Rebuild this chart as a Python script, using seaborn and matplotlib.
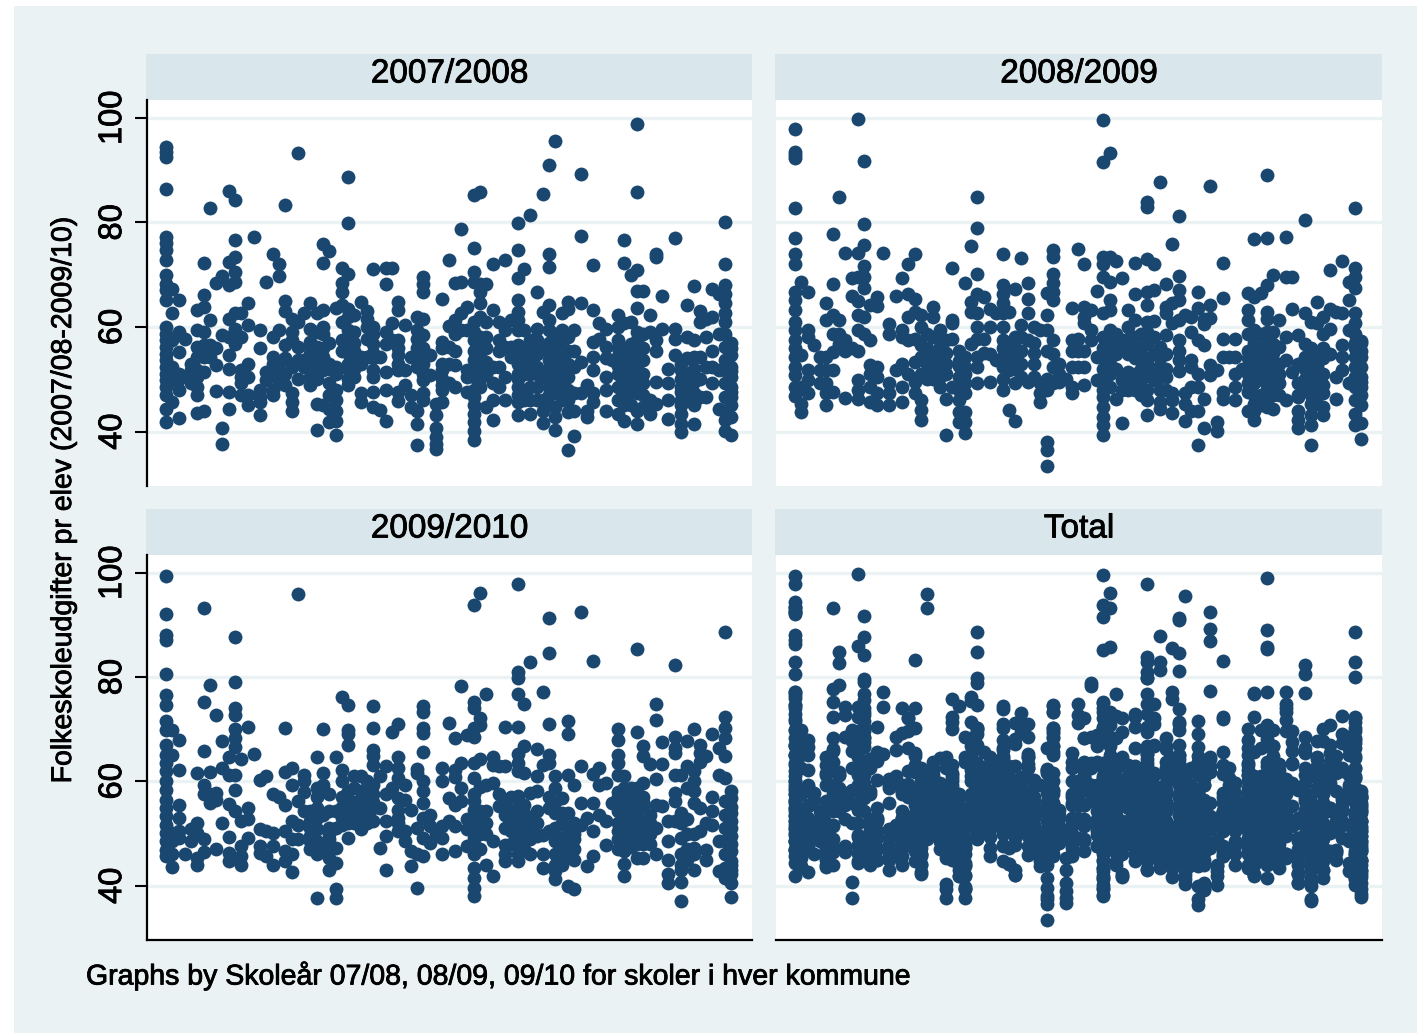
import matplotlib
matplotlib.use("Agg")
import matplotlib.pyplot as plt
import matplotlib.patheffects as pe
from matplotlib.patches import Rectangle
import pandas as pd
import seaborn as sns

PANELS = ["2007/2008", "2008/2009", "2009/2010", "Total"]
Y_TICKS = [40, 60, 80, 100]
Y_LABEL = "Folkeskoleudgifter pr elev (2007/08-2009/10)"
NOTE = "Graphs by Skoleår 07/08, 08/09, 09/10 for skoler i hver kommune"

# One list per municipality (position along the x axis), one value per school
y_0708 = [
 [94.4,93.5,92.5,86.3,77.2,76,74.7,72.9,69.9,68.3,67,65.1,60,58.7,57.5,56.2,54.9,53.6,52.4,51.1,49.8,48.5,47,44.4,41.8],
 [67.3,62.6,57.5,52.4,51,49.8,45.7],[65.1,59,55.2,51,50,47.9,42.6],[57.8],[53,51.7,50.5,49.2],
 [63.2,59.4,56.2,54.3,51.7,50.5,48.5,47,43.6],[72.3,66.2,63.8,59,56.5,54.3,51.4,44],[82.7,61.3,56.5,54.3],
 [68.5,55.9,52.7,47.7],[69.8,58.4,40.7,37.7],[86,72.4,68,61.6,58.1,54.6,52,47.6,44.4],
 [84.2,76.7,73.4,70.5,68.6,62.6,59.7,58.1,56.8],[62.6,58.1,51.7,50.5,49.2,47],[64.5,60.3,53,50.5,47,45],[77.2],
 [59.4,55.9,47.9,46.6,45.7,43.1],[68.6,51.4,49.8],[74,58.1,54.3,53,51,47.9,47],[72.1,69.7,59.5,53,51,49.2],
 [83.3,64.9,63.1,56.5,54,51,48.9],[61.6,59,57.5,52.4,47.3,45.7,44],[93.3,61,56.2,53.6,50],[62.6,53.6,52.4],
 [64.5,59.7,57.1,54.9,53,50.5],[62.6,56.2,53.6,51.7,45.3,40.4],[75.8,72.3,63.2,60,58.7,54.3,51.7,45],
 [74.5,49.2,47,44.4,41.8],[63.7,52.4,51,47.9,46,44,42.1,39.4],[71.3,68.4,66.7,64.2,61,57.5,55.5],
 [88.7,79.8,70.2,63.5,61.9,59.4,56.2,53,48.9],[62.2,55.5,53.6,50.5],[64.7,54.3,53,47.3,45.7],[63,61.6,60,57.8,54.3],
 [71.1,60,58.7,56.8,51.7,50.5,47.6,44.7],[54.3,44.1],[71.2,68.2,59,56.8,51.4,47.9,42.1],[71.2,60.8,57.5],
 [64.7,63.3,57.5,54.6,51.7,47.6,45.8],[60.3,51.7,48.9],[54.3,47,44.7],[62,59.4,57.8,52.4,44,41.4,37.4],
 [69.6,68.3,66.7,61.6,58.4,55.9,49.8,47.3,46],[54.6,50.8],[45.3,43.1,40.6,39,37.7,36.7],[65.4,57.1,55.9,53,51.7,47.9,45.7],
 [72.8,60.1,56.2,53,49.2],[68.4,61.3,58.7,55.5,52.7,48.5],[78.8,68.6,62.6,59.4],[63.8,59.4,51.7,50.5,47.6],
 [85.2,75.1,70.5,68.6,61,57.5,53.6,50.5,46.6,45,43.4,41.8,40.2,38.3],[85.8,68.3,66.7,64.5,61.9,54.3,48.5],
 [68.3,61,58.1,53.3,44.7],[72.1,63.2,52.4,49.2,46,42.3],[61,57.5,55.5,52.4,48.5],[72.9,59.4,56.2,50.5,46],[61.3,56.2,54.3],
 [79.9,74.8,69.4,65.2,62.9,61.3,59.4,54.9,51,48.5,45.7,43.1],[71,59.4,55.5,47.9],[81.4,57.5,53,46,43.4],
 [66.7,59.7,57.5,54.9,52.4,48.5],[85.5,62.9,50.5,46,44,41.6],[90.9,73.9,71.4,64.2,61.3,59.4,55.5,53.6,50.5,48.5],
 [95.5,58.7,54.9,47.3,44.7,42.8,40.4],[62.6,59.4,56.8,51,48.5,46],[64.8,63.5,55.5,50.5,43.8,36.4],
 [59.4,55.5,52.4,47.3,44,39.2],[89.3,77.4,64.6,53.3,47.3],[48.9,44,42.8],[71.9,63.2,57.1,54.3,51.7,47.3,45.7],[60.7,57.8],
 [59.7,56.2,54,50.5,48,44],[53.6],[62.2,60,57.5,54.3,51,46,43.4],[76.7,72.3,60.7,54.3,50.5,47,42.1],[69.9,61,56.8,53,49.2],
 [98.9,85.8,70.9,66.8,63.7,57.5,54.9,51,47.3,44,41.5],[66.8,58.7,53.6,49.2,44.7],[62.2,59,46,43.4],
 [74,73.4,57.5,55.5,49.5,45.3],[65.9,59.7],[52,49.2,46,42.5],[77,59.7,57.8,54.6],[51.7,48.5,46,43.4,41.5,40],
 [64.3,58.1,50.5],[67.8,57.5,54.3,47.3,45,41.5],[63,61,54.3,50.1,46.6],[61.6,58.1,52.4,46.6],[67.3,61.9,55.5,52.4,49.2],
 [66.4,58.7,51.7,44.4],[80.1,72.1,68,66.4,64.5,62.6,61,58.7,56.2,53.6,51.7,49.2,46.6,44,42.2,40.2],
 [55.9,54.6,52.4,50.5,48.5,46.6,42.8,39.3],
]
# Schools inside the solid mass of the band, estimated by municipality
dense_0708 = {23:[56,52,49],24:[59,55,50],25:[56,53],26:[57,53,52],29:[58,55,52,50],30:[59,57,52],33:[55,54],37:[56,53],
 40:[56,54],41:[54,53,51],44:[50,49],49:[59,55.5,51.8,48],50:[58,56,52,50],51:[56,51],56:[56.5,53,50,47],57:[53,51,46],
 58:[55,51,48.5],59:[56,51,46],61:[57,52,47,45],62:[57,52,50,48.5],63:[54,53,47],64:[58,53,48,46],72:[56,52.5,48.5],
 73:[56,52,48.5,45],74:[55,51.5,47.5,45],75:[59,52.5,49],76:[56,51,47],82:[53,50,47.5,45],83:[54,48,46],84:[52,49.5],
 90:[57,51.5,47.5,45]}

y_0809 = [
 [97.8,93.5,92.9,92.4,82.8,77.1,74,72,66.7,65.1,63.2,61,59.4,57.5,55.9,54.3,52.4,50.8,48.5,46.9],
 [68.6,54.6,48.5,45.3,43.7],[66.6,59.4,58.1,51.7,49.8,47.4],[56.5],[54.3,51.7,49.2],[64.6,61.3,54.3,51.7,49.2,47.3,45],
 [77.7,68.3,62.2,58.7,55.2,51.7,47.6],[84.8,61.3,58.7,56.8],[74.2,57.5,55.5,46.5],[69.4,65.9,55.9],
 [99.7,74.2,69.6,64.9,62.2,59.4,55.5,49.8,47.9,46.3],[91.8,79.7,75.6,71.6,69.6,67.5,61.9,58.7],[64.2,57.5,52.7,51.1,48.5,45.7],
 [65.7,64,52.4,50.5,47.3,45],[74.2],[60.5,58.7,49.2,47.3,45],[66,51.7],[69.3,59.4,58.1,53,48.5,45.7],[72.1,66.4,62,57.5,51],
 [74,65.4,62.9,57.8,53.3,49.5,47.3],[62.2,60,56.5,54.3,51,46,44.1,42.2],[58.7,51.4,50.1],[63.8,61.9,54.9,52.4],[59.4,56.2,54.3,50.5],
 [57.5,53,46.2,39.4],[71.3,61.3,60.7,57.8,48.5],[55.5,50.5,47.9,46,43.7,41.8],[68.5,54.3,52.4,49.2,47.3,43.7,41.8,39.7],
 [75.4,64.8,62.9,56.8],[84.8,78.9,70.2,66.4,62.6,60,57.8,54.3,52.4,49.2],[65.7,57.8],[63.5,60,54.9,49.4],[62.6,53.6],
 [73.9,68,66.4,64.5,62.6,60,57.5,54.3,52.4,47.9],[62.9,56.8,51.7,44.2],[67.2,58.1,54.3,49.2,42],[73.2,60.3,55.5,50.5],
 [68.5,65.3,62.6,57.5,49.5],[60,53,50.5],[59.4,49.2,47.3,45.7],[66.5,62.2,59.4,55.5,50.1,47.9,38,36.5,33.4],
 [74.7,73.3,70.2,68.5,66.7,65.1,57.5,54.9,52.4,49.2],[53,51,49.5],[50],[63.7,57.5,55.5,52.4,48.5,47.3],[74.9,57.8,55.5,52.4],
 [72.1,63.8,61.9,60.7,55.5,52.4,48.9],[63.2,59.4,57.5],[66.8,54.3,49.8],
 [99.6,91.6,73.4,72.1,69.6,62.6,58.1,54.3,46.6,44.7,42.8,41.2,39.4],[93.2,73.3,68.6,65.1,63.2,59.4,53,48.5],[72.6,58.7,54.9,46.3],
 [69.4,57.5,49.8,47.9,41.7],[63.2,57.8,54.9,51.4],[72.3,66.4,61.3,56.2,51,47.9],[58.7,54.3,49.8],
 [83.9,82.9,73,66.7,64.3,61,56.8,51,47.9,46,43.2],[72.1,67,61.2,54.9,49.8],[87.8,56.2,50.5,45.7,44.4],[68.3,63.8,62.6,58.4,54.9,50.5],
 [75.8,64.5,60.7,47.3,46,43.6],[81.2,69.8,67,65.1,61.3,57.5,55.5,53.6,51.6],[62.2,47.3,45.3,42],[61.9,59,53.6,52.4,48.5,44],
 [66.6,63.7,57.5,51,48.5,44,37.5],[61.6,60.6,56.5,46.3,40.6],[86.9,64.3,61.8,52.7,50.8],[51.7,41.8,40.2],[72.3,65.6,57.8,54.3,47.6,46.3],
 [54.3],[57.8,54.3,51,48.5,46],[52],[66.5,63.2,61.3,58.7,55.5,52.4,49.2,44],[76.9,65.7,59.4,55.5,52.4,49.2,45.3,42.3],[66.5,58.7,54.3],
 [89,77.1,68.1,62.9,61.6,56.8,54.3,51,47.9,44.7],[69.9,59,56.8,50.5,44.4],[61.4,56.2,49.2],[77.2,69.6,58.1,53.6,46],[69.6,63.5,51.4],
 [58.4,49.2,46.6,44,42.2,40.6],[80.5,62.6,56.8,54.3],[61,53.6,51,45.3,43.1,41.2,37.4],[64.7,60.7,52.4,45.3],
 [61.9,58.7,55.9,47.3,44.7,43.1],[70.9,63.5,59.7,54.9],[62.9,50.5,46.3],[72.6,62.6,56.5,54.3,51.7],[68.6,65.1,59.4,49.2],
 [82.8,71.3,69.6,67.4,62.6,60.7,58.7,54.3,52.4,50.5,48.5,46,43.4,41.2],[57.3,54.3,52.4,50.5,48.5,41.6,38.5],
]
dense_0809 = {21:[56,54,53],22:[58,50],23:[57.5,52.5,48.5],24:[55,51],26:[53.5,52.5],27:[51],30:[55],33:[50,56],34:[55,53],
 35:[56,52],36:[58,53],38:[57,55],49:[56,52,50,48],50:[57,55,51],51:[56,52],53:[60,56,50,48],54:[58,54,50],55:[56,52,50,47],
 56:[59,54,53],57:[58,52,50],58:[54,52,48],59:[52,48],72:[54,51,47.5],73:[57,53.5,51,47,44],74:[56,52,50,47,45],
 75:[59,52.5,49,46],76:[55,53,49,47],77:[53,51,47],80:[53,47],81:[52,50,48],82:[56,49,47],83:[55,53,50,48],84:[54,51,49],
 89:[57,56],90:[57,55.5,49.5,47,45]}

y_0910 = [
 [99.4,92,88,87.1,80.5,76.6,74.7,71.5,69.9,66.9,65.1,63.5,61.9,60,58.4,56.5,54.9,53.3,51.7,50.1,48.5,46.9,45.7],
 [69.9,65.1,50.1,48.5,46,43.6],[68,62.1,55.5,53,50.5,49.2],[46.1],[50.8,48.5],[61.6,52,50.1,45.3,44],
 [93.2,75.2,65.9,59.4,57.5,48.9,46.5],[78.4,61.8,57.5,55.9],[72.8,57.8,56.5,47.1],[67.7,62.6,52],[64.7,61.3,55.7,49.4,46.3,44.7],
 [87.7,79,74,72.8,70,68.3,66.6,61.3,58.3,54.3],[64.3,52.4,47.6,45.7,44],[70.5,54.9,52.7,49.2],[65.2],[60.3,50.8,47.7,46.3],
 [61,50.5,45.7],[57.5,50.1,47.6,44],[57],[70.2,61.8,55.4,50.5,46.6,44.7],[62.6,59.4,52.4,48.9,46,42.7],[96,56.3,51.7,48.9],
 [61.3,60,58,54.3],[54.3,51,48.5,47],[64.7,58.7,54.9,50.8,46,37.7],[70,61.6,59.4,53.6,47.3],[57.5,54.3,51,47.9,45.3,43.1],
 [64.7,54.3,51,47.3,44.4,39.4,37.7],[76.1,62.2,60,51.7],[74.7,69.9,69,66.9,58.1,56.2,53.9,49.2],[61,58.7,53.9],
 [61,58.1,56.5,53,50.8],[60,58.1,54.3],[74.5,70.2,66,64.8,63.2,59.4,57.5,54.9,52.4],[61,54.9,47.3],[62.9,57.5,52.4,49.5,43],
 [69.4,58.7],[71,64.7,62.6,60.7,56.8,53,50.5],[59.4,56.5,50.5,48.5],[54.5,46.6,43.7],[62.4,61.6,51,46,39.6],
 [74.4,73.3,70.3,69.3,65.6,60,58.1,55.9,53,49.2,45.7],[53.6,51.4,48.2],[50],[62.5,60,51.4,49.2,46],[71.2,56.8,52.4],
 [68.4,62.2,60.9,55.5,51.4,46.6],[78.2,63.5,58.7,56.2],[68.9,52.7,50.8,47.6],
 [93.8,75.3,74,70.2,68.6,63.5,60.7,57.5,56.2,52.4,49.2,46,43.4,41.5,39.6,38],[96.2,72.1,70.9,64.2,54.3,47.1],[76.8,59.4,54.3,44],
 [64.6,63.2,59.7,48.5,41.9],[62.9,57.5,55.2],[70.4,63,53.6,47.9,46,44.7],[54.3,50.5],
 [97.9,81,79.8,76.8,70.4,65.2,63.5,61.9,57.2,52.4,48.5,44.7],[74.9,66.8,61.6,55.5,49.8],[82.8,57.8,46],[66.3,61,58.1,54.3],
 [77.2,63.2,49.8,46,43.4],[91.4,84.6,71,65.1,63.5,57.1,54.9,50.5],[61,58.7,48.5,42.8,41.2],[56.8,49.2,44],
 [71.5,69.1,61.3,53.9,50.5,47.3,39.9],[59.4,48.9,45,39.3],[92.4,63,55.9,51.7],[43.8,53],[83,61.5,55.9,50.5,45.7],[62.6,59.4,53.6],
 [59.7,52.4,47.9],[55.9],[70,68,65.1,63.5,61.3,54.3,50.5],[61,58.7,54.3,50.5,46.6,44.1,41.8],[58.7,54.3,48.5],
 [85.3,69.4,58.7,56.2,50.5,45.3],[66.7,64.8,59.7,52.4,45.3],[63.3,53.6],[74.9,71.7,60.5,55.5,51,46],[67.5,63.3,55.2],
 [52.4,48.5,45,42.2,40.6],[82.4,68.6,66.4,65.4,61.2,57.8,56.2,52.4],[61.2,49.2,46,43.1,40.7,37],[67.7,62.9,58.7,52.7],
 [70,61.9,60,58.1,55.9,47.3,43.1],[67,65.4,63.8,54.9,50.5],[64.8,52,46.9,45],[69,57.1,54.3,51.7],[66.4,61.3,48.5,42.8],
 [88.6,72.4,70.2,68.3,64.8,60.7,56.2,53.6,51,48.5,46,43.4,41.5],[58.1,56.8,53.9,52.4,49.6,46.6,44.7,42.2,40.6,37.8],
]
dense_0910 = {23:[52.5,49.5],24:[57,53,48.5],26:[50,49],28:[57,55,53],29:[54.5,52],30:[56,52],31:[54],32:[56,52],33:[56],
 37:[54.5,52],49:[54.5,51,48],50:[59,52,50],51:[52,50],54:[56,51],55:[57,52,48],56:[55,50.5,46],57:[54,52,47],58:[53,51,49],
 59:[52,49.5],62:[56,54,51,46,44],63:[54,52,47,46],64:[51,49,46],65:[52,50,47],72:[58,57,52,49,47],73:[57,56,52.5,49],
 74:[57,56,52,50,47.5],75:[55,53,52,48],76:[57,56,55,50,48],77:[52,50,48],82:[54,52,44],83:[50,47,45],84:[50,46],
 90:[55,51,48,44,43]}

def long_table(columns, dense, panel):
    rows = [{"kommune": i, "udgift": v, "panel": panel} for i, col in enumerate(columns) for v in col]
    rows += [{"kommune": i, "udgift": v, "panel": panel} for i, col in dense.items() for v in col]
    return rows

series = [(y_0708, dense_0708), (y_0809, dense_0809), (y_0910, dense_0910)]
rows = []
for name, (cols, dense) in zip(PANELS, series):
    rows += long_table(cols, dense, name)
    rows += long_table(cols, dense, PANELS[3])
df = pd.DataFrame(rows)

sns.set_theme(style="white")
plt.rcParams["font.family"] = ["Liberation Sans", "DejaVu Sans"]

W, H = 1417, 1033
BG, HEAD, NAVY = "#eaf2f3", "#d9e6eb", "#1a476f"
HEAVY = [pe.withStroke(linewidth=0.6, foreground="black")]
fig = plt.figure(figsize=(W / 100, H / 100), dpi=100, facecolor="white")
fig.patches.append(Rectangle((14 / W, 0), 1 - 14 / W, 1 - 6 / H, transform=fig.transFigure, facecolor=BG, edgecolor="none", zorder=-10))

def fx(p): return p / W
def fy(p): return 1 - p / H

boxes = [(147, 100, 752, 486), (776, 100, 1382, 486), (147, 555, 752, 940), (776, 555, 1382, 940)]
for idx, (name, (l, t, r, b)) in enumerate(zip(PANELS, boxes)):
    ax = fig.add_axes([fx(l), fy(b), (r - l) / W, (b - t) / H], facecolor="white")
    sns.scatterplot(data=df[df.panel == name], x="kommune", y="udgift", ax=ax, color=NAVY, s=100, linewidth=0, legend=False, zorder=3, clip_on=False)
    ax.set_xlim(-3.02, 93.3)
    ax.set_ylim(29.6, 103.4)
    ax.set_xlabel("")
    ax.set_ylabel("")
    ax.set_xticks([])
    ax.set_yticks(Y_TICKS)
    ax.yaxis.grid(True, color=BG, linewidth=2.4, zorder=1)
    ax.xaxis.grid(False)
    ax.set_axisbelow(True)
    for s in ax.spines.values():
        s.set_visible(False)
    if idx % 2 == 0:
        ax.spines["left"].set_visible(True)
        ax.spines["left"].set_color("black")
        ax.spines["left"].set_linewidth(1.6)
        ax.tick_params(axis="y", left=True, length=8.6, width=1.5, color="black", pad=5, labelsize=23.5, labelcolor="black")
        for lab in ax.get_yticklabels():
            lab.set_rotation(90)
            lab.set_va("center")
            lab.set_path_effects(HEAVY)
    else:
        ax.tick_params(axis="y", left=False, labelleft=False)
    if idx >= 2:
        ax.spines["bottom"].set_visible(True)
        ax.spines["bottom"].set_color("black")
        ax.spines["bottom"].set_linewidth(1.6)
    fig.patches.append(Rectangle((fx(l - 1), fy(t)), (r - l + 1) / W, 46 / H, transform=fig.transFigure, facecolor=HEAD, edgecolor="none", zorder=-5))
    fig.text(fx((l + r) / 2), fy(t - 26), name, ha="center", va="center", fontsize=24, color="black", path_effects=HEAVY)

fig.text(fx(64), fy(500), Y_LABEL, rotation=90, ha="center", va="center", fontsize=20.5, color="black", path_effects=HEAVY)
fig.text(fx(86), fy(976), NOTE, ha="left", va="center", fontsize=20.5, color="black", path_effects=HEAVY)

fig.savefig("out.png", dpi=100, facecolor=fig.get_facecolor())
